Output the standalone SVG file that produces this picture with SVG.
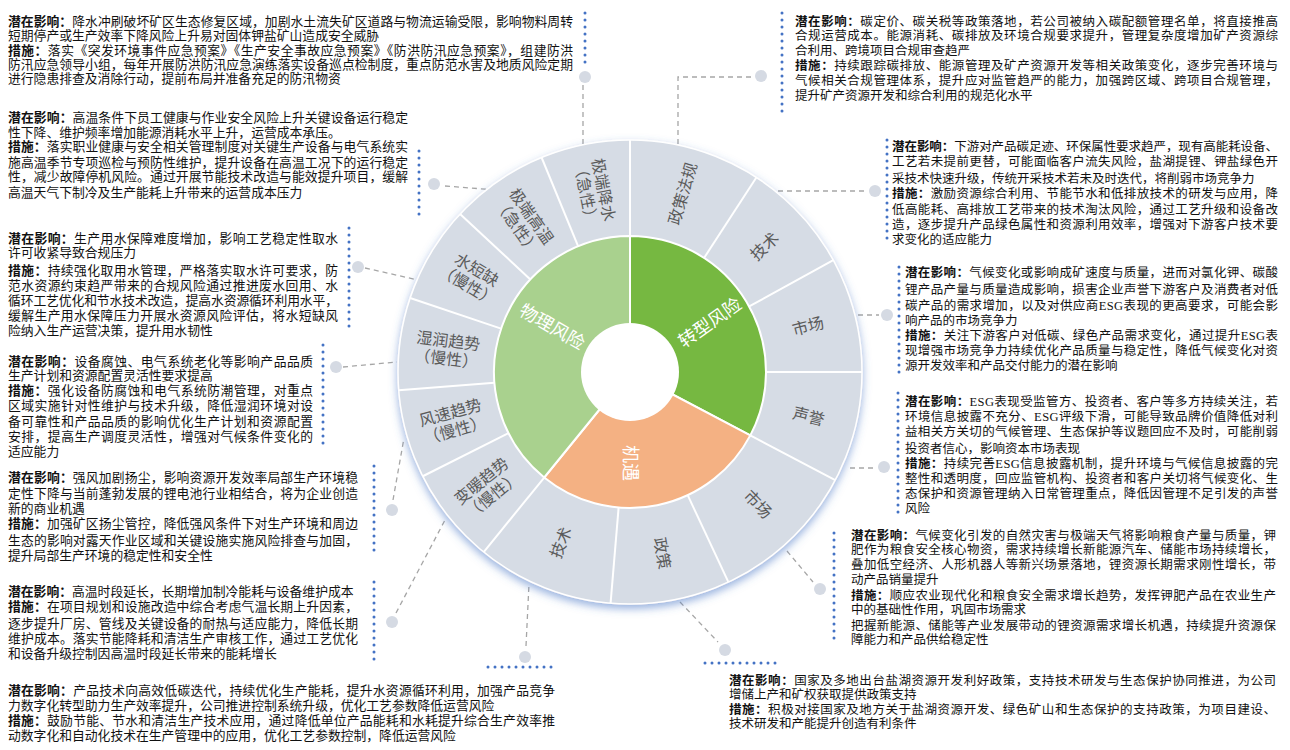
<svg xmlns="http://www.w3.org/2000/svg" width="1290" height="750" viewBox="0 0 1290 750">
<style>
.t{font-family:"Liberation Serif","Noto Sans CJK SC",serif;font-size:12.8px;fill:#111}
.r{font-size:12.5px}
.b{font-weight:bold}
.seg{font-family:"Liberation Serif","Noto Sans CJK SC",serif;font-size:16px;fill:#5a5a5a;text-anchor:middle}
.mid{font-family:"Liberation Serif","Noto Sans CJK SC",serif;font-size:18px;fill:#fff;text-anchor:middle}
.dot{stroke:#4472c4;stroke-width:3;stroke-dasharray:0 7;stroke-linecap:round;fill:none}
.dash{stroke:#a6a6a6;stroke-width:1.3;stroke-dasharray:5 4;fill:none}
.node{fill:#d5dae3}
.sep{stroke:#fff;stroke-width:2}
</style>
<defs>
<filter id="glow" x="-20%" y="-20%" width="140%" height="140%">
<feDropShadow dx="0" dy="4" stdDeviation="4" flood-color="#4472c4" flood-opacity="0.55"/>
</filter>
</defs>
<rect width="1290" height="750" fill="#fff"/>

<g id="connectors">
<path class="dash" d="M583 85V152"/><circle class="node" cx="585" cy="77" r="6"/><path class="dot" d="M585 13V64"/>
<path class="dash" d="M445 186L496 190"/><circle class="node" cx="434" cy="184" r="6"/><path class="dot" d="M419 151V217"/>
<path class="dash" d="M365 268L418 280"/><circle class="node" cx="358" cy="267" r="6"/><path class="dot" d="M349 228V330"/>
<path class="dash" d="M343 367L397 362"/><circle class="node" cx="336" cy="367" r="6"/><path class="dot" d="M323 345V450"/>
<path class="dash" d="M393 500L404 438"/><circle class="node" cx="392" cy="510" r="6"/><path class="dot" d="M374 466V555"/>
<path class="dash" d="M396 613L445 520"/><circle class="node" cx="392" cy="622" r="6"/><path class="dot" d="M374 582V662"/>
<path class="dash" d="M526 646L529 584"/><circle class="node" cx="525" cy="657" r="6"/><path class="dot" d="M488 667H556"/>
<path class="dash" d="M680 602L718 642"/><circle class="node" cx="725" cy="650" r="6"/><path class="dot" d="M705 663H779"/>
<path class="dash" d="M787 551L813 582"/><circle class="node" cx="820" cy="589" r="6"/><path class="dot" d="M834 533V645"/>
<path class="dash" d="M850 468H877"/><circle class="node" cx="884" cy="467" r="6"/><path class="dot" d="M898 393V514"/>
<path class="dash" d="M858 315H879"/><circle class="node" cx="887" cy="315" r="6"/><path class="dot" d="M899 267V376"/>
<path class="dash" d="M778 191H868"/><circle class="node" cx="875" cy="191" r="6"/><path class="dot" d="M887 140V244"/>
<path class="dash" d="M678 153V77H755"/><circle class="node" cx="761" cy="76" r="6"/><path class="dot" d="M782 13V114"/>
</g>

<g id="wheel">
<circle cx="630" cy="372" r="232" fill="#d6dce5" stroke="#fff" stroke-width="1.5" filter="url(#glow)"/>
<g transform="translate(630 372)">
<g class="sep">
<line x1="0" y1="-136" x2="0" y2="-232" transform="rotate(0)"/>
<line x1="0" y1="-136" x2="0" y2="-232" transform="rotate(33)"/>
<line x1="0" y1="-136" x2="0" y2="-232" transform="rotate(61.2)"/>
<line x1="0" y1="-136" x2="0" y2="-232" transform="rotate(90)"/>
<line x1="0" y1="-136" x2="0" y2="-232" transform="rotate(117.8)"/>
<line x1="0" y1="-136" x2="0" y2="-232" transform="rotate(154.9)"/>
<line x1="0" y1="-136" x2="0" y2="-232" transform="rotate(184.8)"/>
<line x1="0" y1="-136" x2="0" y2="-232" transform="rotate(219.1)"/>
<line x1="0" y1="-136" x2="0" y2="-232" transform="rotate(243.3)"/>
<line x1="0" y1="-136" x2="0" y2="-232" transform="rotate(265.5)"/>
<line x1="0" y1="-136" x2="0" y2="-232" transform="rotate(288.6)"/>
<line x1="0" y1="-136" x2="0" y2="-232" transform="rotate(312.9)"/>
<line x1="0" y1="-136" x2="0" y2="-232" transform="rotate(337.6)"/>
</g>
<g id="seg-labels">
<g transform="rotate(16.5)"><text class="seg" transform="translate(0 -186) rotate(-90)" y="5.6">政策法规</text></g>
<g transform="rotate(47)"><text class="seg" transform="translate(0 -184) rotate(-90)" y="5.6">技术</text></g>
<g transform="rotate(75.6)"><text class="seg" transform="translate(0 -184) rotate(-90)" y="5.6">市场</text></g>
<g transform="rotate(104)"><text class="seg" transform="translate(0 -184) rotate(-90)" y="5.6">声誉</text></g>
<g transform="rotate(136)"><text class="seg" transform="translate(0 -184) rotate(-90)" y="5.6">市场</text></g>
<g transform="rotate(170)"><text class="seg" transform="translate(0 -184) rotate(-90)" y="5.6">政策</text></g>
<g transform="rotate(202)"><text class="seg" transform="translate(0 -184) rotate(90)" y="5.6">技术</text></g>
<g transform="rotate(231)"><text class="seg" transform="translate(0 -184) rotate(90)"><tspan x="0" y="-3">变暖趋势</tspan><tspan x="0" y="15">（慢性）</tspan></text></g>
<g transform="rotate(254.5)"><text class="seg" transform="translate(0 -184) rotate(90)"><tspan x="0" y="-3">风速趋势</tspan><tspan x="0" y="15">（慢性）</tspan></text></g>
<g transform="rotate(277)"><text class="seg" transform="translate(0 -184) rotate(90)"><tspan x="0" y="-3">湿润趋势</tspan><tspan x="0" y="15">（慢性）</tspan></text></g>
<g transform="rotate(301)"><text class="seg" transform="translate(0 -184) rotate(90)"><tspan x="0" y="-3">水短缺</tspan><tspan x="0" y="15">（慢性）</tspan></text></g>
<g transform="rotate(325)"><text class="seg" transform="translate(0 -184) rotate(90)"><tspan x="0" y="-3">极端高温</tspan><tspan x="0" y="15">（急性）</tspan></text></g>
<g transform="rotate(349)"><text class="seg" transform="translate(0 -184) rotate(90)"><tspan x="0" y="-3">极端降水</tspan><tspan x="0" y="15">（急性）</tspan></text></g>
</g>
</g>
<g id="transition"><path d="M630 372L630 236A136 136 0 0 1 750.3 435.4Z" fill="#76b841" stroke="#fff" stroke-width="2"/></g>
<g id="opportunity"><path d="M630 372L750.3 435.4A136 136 0 0 1 544.2 477.5Z" fill="#f4b183" stroke="#fff" stroke-width="2"/></g>
<g id="physical"><path d="M630 372L544.2 477.5A136 136 0 0 1 630 236Z" fill="#a9d18e" stroke="#fff" stroke-width="2"/></g>
<circle cx="630" cy="372" r="49" fill="#fff"/>
<text class="mid" transform="translate(552 327) rotate(30)" y="6">物理风险</text>
<text class="mid" transform="translate(710 323) rotate(-35)" y="6">转型风险</text>
<text class="mid" transform="translate(630 463) rotate(90)" y="6">机遇</text>
</g>

<g id="note-precip" class="t">
<text x="8" y="26.2" textLength="565" lengthAdjust="spacing"><tspan class="b">潜在影响：</tspan>降水冲刷破坏矿区生态修复区域，加剧水土流失矿区道路与物流运输受限，影响物料周转</text>
<text x="8" y="40.2">短期停产或生产效率下降风险上升易对固体钾盐矿山造成安全威胁</text>
<text x="8" y="54.5" textLength="565" lengthAdjust="spacing"><tspan class="b">措施：</tspan>落实《突发环境事件应急预案》《生产安全事故应急预案》《防洪防汛应急预案》，组建防洪</text>
<text x="8" y="68.5" textLength="565" lengthAdjust="spacing">防汛应急领导小组，每年开展防洪防汛应急演练落实设备巡点检制度，重点防范水害及地质风险定期</text>
<text x="8" y="83.2">进行隐患排查及消除行动，提前布局并准备充足的防汛物资</text>
</g>
<g id="note-heat" class="t">
<text x="8" y="121.8" textLength="400" lengthAdjust="spacing"><tspan class="b">潜在影响：</tspan>高温条件下员工健康与作业安全风险上升关键设备运行稳定</text>
<text x="8" y="136.8">性下降、维护频率增加能源消耗水平上升，运营成本承压。</text>
<text x="8" y="151.2" textLength="400" lengthAdjust="spacing"><tspan class="b">措施：</tspan>落实职业健康与安全相关管理制度对关键生产设备与电气系统实</text>
<text x="8" y="166.8" textLength="400" lengthAdjust="spacing">施高温季节专项巡检与预防性维护，提升设备在高温工况下的运行稳定</text>
<text x="8" y="181.2" textLength="400" lengthAdjust="spacing">性，减少故障停机风险。通过开展节能技术改造与能效提升项目，缓解</text>
<text x="8" y="196.8">高温天气下制冷及生产能耗上升带来的运营成本压力</text>
</g>
<g id="note-water" class="t">
<text x="8" y="242.8" textLength="330" lengthAdjust="spacing"><tspan class="b">潜在影响：</tspan>生产用水保障难度增加，影响工艺稳定性取水</text>
<text x="8" y="257.2">许可收紧导致合规压力</text>
<text x="8" y="274.5" textLength="330" lengthAdjust="spacing"><tspan class="b">措施：</tspan>持续强化取用水管理，严格落实取水许可要求，防</text>
<text x="8" y="289.5" textLength="330" lengthAdjust="spacing">范水资源约束趋严带来的合规风险通过推进废水回用、水</text>
<text x="8" y="304.5" textLength="330" lengthAdjust="spacing">循环工艺优化和节水技术改造，提高水资源循环利用水平，</text>
<text x="8" y="320.2" textLength="330" lengthAdjust="spacing">缓解生产用水保障压力开展水资源风险评估，将水短缺风</text>
<text x="8" y="334.5">险纳入生产运营决策，提升用水韧性</text>
</g>
<g id="note-humid" class="t">
<text x="8" y="366.2" textLength="305" lengthAdjust="spacing"><tspan class="b">潜在影响：</tspan>设备腐蚀、电气系统老化等影响产品品质</text>
<text x="8" y="380.2">生产计划和资源配置灵活性要求提高</text>
<text x="8" y="395.2" textLength="305" lengthAdjust="spacing"><tspan class="b">措施：</tspan>强化设备防腐蚀和电气系统防潮管理，对重点</text>
<text x="8" y="410.2" textLength="305" lengthAdjust="spacing">区域实施针对性维护与技术升级，降低湿润环境对设</text>
<text x="8" y="426.2" textLength="305" lengthAdjust="spacing">备可靠性和产品品质的影响优化生产计划和资源配置</text>
<text x="8" y="441.2" textLength="305" lengthAdjust="spacing">安排，提高生产调度灵活性，增强对气候条件变化的</text>
<text x="8" y="455.5">适应能力</text>
</g>
<g id="note-wind" class="t">
<text x="8" y="481.8" textLength="350" lengthAdjust="spacing"><tspan class="b">潜在影响：</tspan>强风加剧扬尘，影响资源开发效率局部生产环境稳</text>
<text x="8" y="497.8" textLength="350" lengthAdjust="spacing">定性下降与当前蓬勃发展的锂电池行业相结合，将为企业创造</text>
<text x="8" y="512.8">新的商业机遇</text>
<text x="8" y="527.8" textLength="350" lengthAdjust="spacing"><tspan class="b">措施：</tspan>加强矿区扬尘管控，降低强风条件下对生产环境和周边</text>
<text x="8" y="544.5" textLength="350" lengthAdjust="spacing">生态的影响对露天作业区域和关键设施实施风险排查与加固，</text>
<text x="8" y="559.5">提升局部生产环境的稳定性和安全性</text>
</g>
<g id="note-warm" class="t">
<text x="8" y="596.2"><tspan class="b">潜在影响：</tspan>高温时段延长，长期增加制冷能耗与设备维护成本</text>
<text x="8" y="611.2" textLength="350" lengthAdjust="spacing"><tspan class="b">措施：</tspan>在项目规划和设施改造中综合考虑气温长期上升因素，</text>
<text x="8" y="627.8" textLength="350" lengthAdjust="spacing">逐步提升厂房、管线及关键设备的耐热与适应能力，降低长期</text>
<text x="8" y="642.8" textLength="350" lengthAdjust="spacing">维护成本。落实节能降耗和清洁生产审核工作，通过工艺优化</text>
<text x="8" y="657.8">和设备升级控制因高温时段延长带来的能耗增长</text>
</g>
<g id="note-opp-tech" class="t">
<text x="8" y="694.5" textLength="547" lengthAdjust="spacing"><tspan class="b">潜在影响：</tspan>产品技术向高效低碳迭代，持续优化生产能耗，提升水资源循环利用，加强产品竞争</text>
<text x="8" y="709.5">力数字化转型助力生产效率提升，公司推进控制系统升级，优化工艺参数降低运营风险</text>
<text x="8" y="724.5" textLength="547" lengthAdjust="spacing"><tspan class="b">措施：</tspan>鼓励节能、节水和清洁生产技术应用，通过降低单位产品能耗和水耗提升综合生产效率推</text>
<text x="8" y="739.5">动数字化和自动化技术在生产管理中的应用，优化工艺参数控制，降低运营风险</text>
</g>

<g id="note-policy" class="t r">
<text x="795" y="26.2" textLength="483" lengthAdjust="spacing"><tspan class="b">潜在影响：</tspan>碳定价、碳关税等政策落地，若公司被纳入碳配额管理名单，将直接推高</text>
<text x="795" y="40.2" textLength="483" lengthAdjust="spacing">合规运营成本。能源消耗、碳排放及环境合规要求提升，管理复杂度增加矿产资源综</text>
<text x="795" y="54.5">合利用、跨境项目合规审查趋严</text>
<text x="795" y="69.5" textLength="483" lengthAdjust="spacing"><tspan class="b">措施：</tspan>持续跟踪碳排放、能源管理及矿产资源开发等相关政策变化，逐步完善环境与</text>
<text x="795" y="84.5" textLength="483" lengthAdjust="spacing">气候相关合规管理体系，提升应对监管趋严的能力，加强跨区域、跨项目合规管理，</text>
<text x="795" y="99.5">提升矿产资源开发和综合利用的规范化水平</text>
</g>
<g id="note-tech" class="t r">
<text x="892" y="151.2" textLength="386" lengthAdjust="spacing"><tspan class="b">潜在影响：</tspan>下游对产品碳足迹、环保属性要求趋严，现有高能耗设备、</text>
<text x="892" y="166.2" textLength="386" lengthAdjust="spacing">工艺若未提前更替，可能面临客户流失风险，盐湖提锂、钾盐绿色开</text>
<text x="892" y="182.8">采技术快速升级，传统开采技术若未及时迭代，将削弱市场竞争力</text>
<text x="892" y="197.8" textLength="386" lengthAdjust="spacing"><tspan class="b">措施：</tspan>激励资源综合利用、节能节水和低排放技术的研发与应用，降</text>
<text x="892" y="213.5" textLength="386" lengthAdjust="spacing">低高能耗、高排放工艺带来的技术淘汰风险，通过工艺升级和设备改</text>
<text x="892" y="228.5" textLength="386" lengthAdjust="spacing">造，逐步提升产品绿色属性和资源利用效率，增强对下游客户技术要</text>
<text x="892" y="243.5">求变化的适应能力</text>
</g>
<g id="note-market" class="t r">
<text x="905" y="277.2" textLength="373" lengthAdjust="spacing"><tspan class="b">潜在影响：</tspan>气候变化或影响成矿速度与质量，进而对氯化钾、碳酸</text>
<text x="905" y="293.8" textLength="373" lengthAdjust="spacing">锂产品产量与质量造成影响，损害企业声誉下游客户及消费者对低</text>
<text x="905" y="309.5" textLength="373" lengthAdjust="spacing">碳产品的需求增加，以及对供应商ESG表现的更高要求，可能会影</text>
<text x="905" y="324.5">响产品的市场竞争力</text>
<text x="905" y="339.5" textLength="373" lengthAdjust="spacing"><tspan class="b">措施：</tspan>关注下游客户对低碳、绿色产品需求变化，通过提升ESG表</text>
<text x="905" y="354.5" textLength="373" lengthAdjust="spacing">现增强市场竞争力持续优化产品质量与稳定性，降低气候变化对资</text>
<text x="905" y="369.5">源开发效率和产品交付能力的潜在影响</text>
</g>
<g id="note-reputation" class="t r">
<text x="905" y="406.2" textLength="373" lengthAdjust="spacing"><tspan class="b">潜在影响：</tspan>ESG表现受监管方、投资者、客户等多方持续关注，若</text>
<text x="905" y="421.2" textLength="373" lengthAdjust="spacing">环境信息披露不充分、ESG评级下滑，可能导致品牌价值降低对利</text>
<text x="905" y="436.2" textLength="373" lengthAdjust="spacing">益相关方关切的气候管理、生态保护等议题回应不及时，可能削弱</text>
<text x="905" y="452.8">投资者信心，影响资本市场表现</text>
<text x="905" y="467.8" textLength="373" lengthAdjust="spacing"><tspan class="b">措施：</tspan>持续完善ESG信息披露机制，提升环境与气候信息披露的完</text>
<text x="905" y="482.8" textLength="373" lengthAdjust="spacing">整性和透明度，回应监管机构、投资者和客户关切将气候变化、生</text>
<text x="905" y="497.8" textLength="373" lengthAdjust="spacing">态保护和资源管理纳入日常管理重点，降低因管理不足引发的声誉</text>
<text x="905" y="512.8">风险</text>
</g>
<g id="note-opp-market" class="t r">
<text x="851" y="539.5" textLength="425" lengthAdjust="spacing"><tspan class="b">潜在影响：</tspan>气候变化引发的自然灾害与极端天气将影响粮食产量与质量，钾</text>
<text x="851" y="553.8" textLength="425" lengthAdjust="spacing">肥作为粮食安全核心物资，需求持续增长新能源汽车、储能市场持续增长，</text>
<text x="851" y="568.8" textLength="425" lengthAdjust="spacing">叠加低空经济、人形机器人等新兴场景落地，锂资源长期需求刚性增长，带</text>
<text x="851" y="583.8">动产品销量提升</text>
<text x="851" y="599.5" textLength="425" lengthAdjust="spacing"><tspan class="b">措施：</tspan>顺应农业现代化和粮食安全需求增长趋势，发挥钾肥产品在农业生产</text>
<text x="851" y="613.8">中的基础性作用，巩固市场需求</text>
<text x="851" y="629.5" textLength="425" lengthAdjust="spacing">把握新能源、储能等产业发展带动的锂资源需求增长机遇，持续提升资源保</text>
<text x="851" y="643.8">障能力和产品供给稳定性</text>
</g>
<g id="note-opp-policy" class="t r">
<text x="729" y="684.5" textLength="547" lengthAdjust="spacing"><tspan class="b">潜在影响：</tspan>国家及多地出台盐湖资源开发利好政策，支持技术研发与生态保护协同推进，为公司</text>
<text x="729" y="698.5">增储上产和矿权获取提供政策支持</text>
<text x="729" y="713.8" textLength="547" lengthAdjust="spacing"><tspan class="b">措施：</tspan>积极对接国家及地方关于盐湖资源开发、绿色矿山和生态保护的支持政策，为项目建设、</text>
<text x="729" y="727.8">技术研发和产能提升创造有利条件</text>
</g>
</svg>
